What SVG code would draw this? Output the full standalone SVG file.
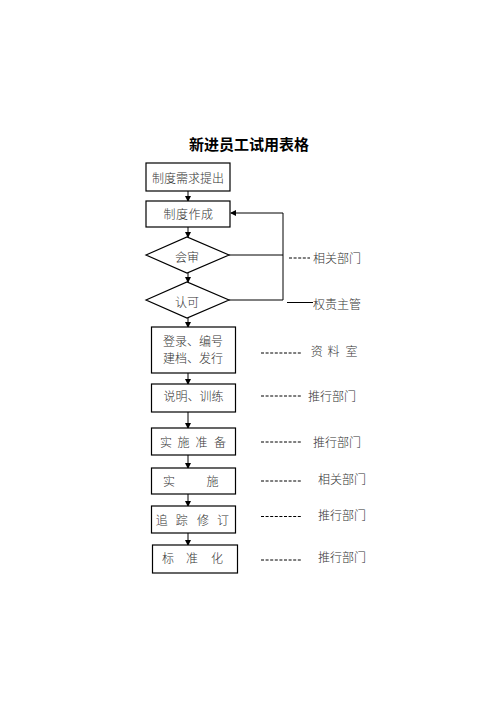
<svg xmlns="http://www.w3.org/2000/svg" width="496" height="702" viewBox="0 0 496 702">
<defs>
<marker id="ah" markerWidth="6" markerHeight="6" refX="5" refY="3" orient="auto" markerUnits="userSpaceOnUse">
<path d="M0,0 L6,3 L0,6 Z" fill="#000"/>
</marker>
<style>
.b{fill:#fff;stroke:#000;stroke-width:1.2}
.t{font-family:"Noto Sans CJK SC","Noto Sans",sans-serif;font-size:12px;font-weight:300;fill:#333;dominant-baseline:central}
.c{text-anchor:middle}
.l{stroke:#000;stroke-width:1;fill:none}
.d{stroke:#000;stroke-width:1;stroke-dasharray:3,1.6;fill:none}
</style>
</defs>
<rect width="496" height="702" fill="#fff"/>
<text x="249" y="143" class="t c" style="font-size:15px;font-weight:bold;fill:#000">新进员工试用表格</text>

<g id="connectors">
<line class="l" x1="188" y1="191" x2="188" y2="201" marker-end="url(#ah)"/>
<line class="l" x1="188" y1="227" x2="188" y2="237" marker-end="url(#ah)"/>
<line class="l" x1="188" y1="273" x2="188" y2="282" marker-end="url(#ah)"/>
<line class="l" x1="188" y1="318" x2="188" y2="327" marker-end="url(#ah)"/>
<line class="l" x1="188" y1="373" x2="188" y2="384" marker-end="url(#ah)"/>
<line class="l" x1="188" y1="412" x2="188" y2="428" marker-end="url(#ah)"/>
<line class="l" x1="188" y1="455" x2="188" y2="468" marker-end="url(#ah)"/>
<line class="l" x1="188" y1="494" x2="188" y2="506" marker-end="url(#ah)"/>
<line class="l" x1="188" y1="533" x2="188" y2="545" marker-end="url(#ah)"/>
<polyline class="l" points="229,255 283,255"/>
<polyline class="l" points="229,300 283,300 283,213 231,213" marker-end="url(#ah)"/>
<line class="d" x1="289" y1="258" x2="310" y2="258"/>
<line class="l" x1="287" y1="302.5" x2="313" y2="302.5" stroke-width="0.8"/>
<line class="d" x1="261" y1="353" x2="302" y2="353"/>
<line class="d" x1="261" y1="396" x2="302" y2="396"/>
<line class="d" x1="261" y1="442" x2="302" y2="442"/>
<line class="d" x1="261" y1="481" x2="302" y2="481"/>
<line class="d" x1="261" y1="516.5" x2="302" y2="516.5"/>
<line class="d" x1="261" y1="560" x2="302" y2="560"/>
</g>

<g id="n1"><rect class="b" x="146" y="163" width="84" height="28"/><text class="t c" x="188" y="177">制度需求提出</text></g>
<g id="n2"><rect class="b" x="146" y="201" width="84" height="26"/><text class="t c" x="169.5" y="213">制</text><text class="t c" x="182" y="213">度</text><text class="t c" x="194.5" y="213">作</text><text class="t c" x="207" y="213">成</text></g>
<g id="n3"><polygon class="b" points="146,255 187,237 229,255 187,273"/><text class="t c" x="187" y="256.5">会审</text></g>
<g id="n4"><polygon class="b" points="146,300 187,282 229,300 187,318"/><text class="t c" x="187" y="301.5">认可</text></g>
<g id="n5"><rect class="b" x="151.5" y="327" width="84" height="46"/><text class="t c" x="193" y="340">登录、编号</text><text class="t c" x="193" y="357">建档、发行</text></g>
<g id="n6"><rect class="b" x="151.5" y="384" width="84" height="28"/><text class="t c" x="193.5" y="395">说明、训练</text></g>
<g id="n7"><rect class="b" x="151.5" y="428" width="84" height="27"/><text class="t c" x="166" y="441.5">实</text><text class="t c" x="183.5" y="441.5">施</text><text class="t c" x="201.5" y="441.5">准</text><text class="t c" x="220" y="441.5">备</text></g>
<g id="n8"><rect class="b" x="151.5" y="468" width="84" height="26"/><text class="t c" x="169" y="480.5">实</text><text class="t c" x="212.5" y="480.5">施</text></g>
<g id="n9"><rect class="b" x="151.5" y="506" width="84" height="27"/><text class="t c" x="161.7" y="519">追</text><text class="t c" x="181.7" y="519">踪</text><text class="t c" x="203" y="519">修</text><text class="t c" x="223" y="519">订</text></g>
<g id="n10"><rect class="b" x="152.5" y="545" width="85" height="28"/><text class="t c" x="168" y="557.5">标</text><text class="t c" x="192" y="557.5">准</text><text class="t c" x="217" y="557.5">化</text></g>

<g id="labels">
<text class="t" x="313" y="257">相关部门</text>
<text class="t" x="313" y="303">权责主管</text>
<text class="t c" x="316.7" y="350">资</text><text class="t c" x="333.5" y="350">料</text><text class="t c" x="351.5" y="350">室</text>
<text class="t" x="308" y="395">推行部门</text>
<text class="t" x="313" y="441.5">推行部门</text>
<text class="t" x="318" y="478">相关部门</text>
<text class="t" x="318" y="514">推行部门</text>
<text class="t" x="318" y="556.5">推行部门</text>
</g>
</svg>
